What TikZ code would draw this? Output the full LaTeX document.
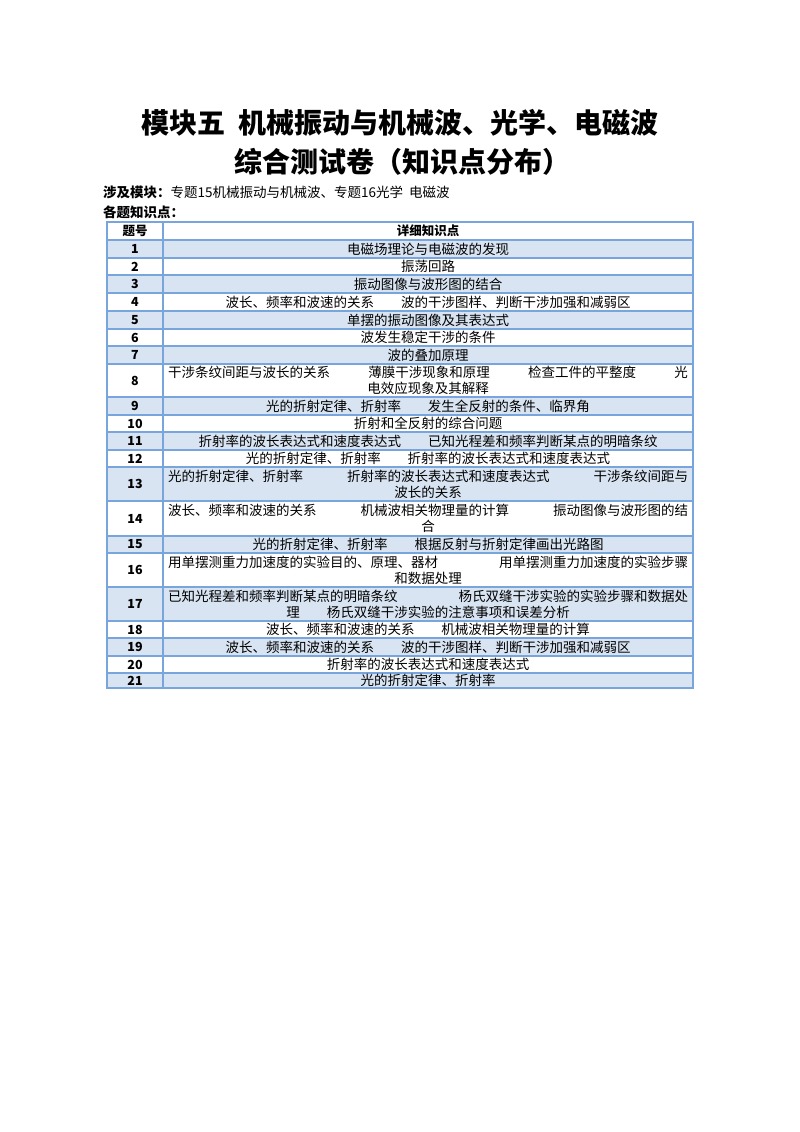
\documentclass[tikz,border=0pt]{standalone}
\usepackage{fontspec}
\setmainfont{Noto Sans CJK SC}
\definecolor{rowblue}{RGB}{216,228,242}
\definecolor{lineblue}{RGB}{120,165,220}
\newcommand{\G}{\hspace{2em}}
\newcommand{\tabrow}[5]{%
  \fill[#4] (107pt,-#2pt) rectangle (693pt,-#3pt);
  \draw[cellline] (107pt,-#2pt) rectangle (693pt,-#3pt);
  \draw[cellline] (163pt,-#2pt) -- (163pt,-#3pt);
  \node[numtxt] (n#1) at (135pt,{-(#2+#3)/2*1pt}) {#1};
  \node[celltxt] (t#1) at (428pt,{-(#2+#3)/2*1pt}) {#5};
}
\begin{document}
\begin{tikzpicture}[x=1pt,y=1pt,
  cellline/.style={draw=lineblue,line width=1.2pt},
  numtxt/.style={font=\fontsize{12.5}{13}\selectfont\bfseries,inner sep=0pt},
  celltxt/.style={font=\fontsize{13.5}{16}\selectfont,inner sep=0pt,align=center,text width=520pt}]
\useasboundingbox (0,0) rectangle (800,-1132);
\node[font=\fontsize{28}{30}\selectfont\bfseries] (title1) at (400,-123) {模块五\ \ 机械振动与机械波、光学、电磁波};
\node[font=\fontsize{28}{30}\selectfont\bfseries] (title2) at (402,-162) {综合测试卷（知识点分布）};
\node[anchor=west,font=\fontsize{13.5}{15}\selectfont,inner sep=0pt] (mod) at (103,-192) {\textbf{涉及模块：}专题15机械振动与机械波、专题16光学\ \ 电磁波};
\node[anchor=west,font=\fontsize{13.5}{15}\selectfont\bfseries,inner sep=0pt] (each) at (103,-212) {各题知识点：};
\fill[white] (107,-222) rectangle (693,-240);
\draw[cellline] (107,-222) rectangle (693,-240);
\draw[cellline] (163,-222) -- (163,-240);
\node[numtxt] (h1) at (135,-231) {题号};
\node[numtxt] (h2) at (428,-231) {详细知识点};
\tabrow{1}{240}{258}{rowblue}{电磁场理论与电磁波的发现}
\tabrow{2}{258}{275}{white}{振荡回路}
\tabrow{3}{275}{293}{rowblue}{振动图像与波形图的结合}
\tabrow{4}{293}{311}{white}{波长、频率和波速的关系\G 波的干涉图样、判断干涉加强和减弱区}
\tabrow{5}{311}{329}{rowblue}{单摆的振动图像及其表达式}
\tabrow{6}{329}{346}{white}{波发生稳定干涉的条件}
\tabrow{7}{346}{364}{rowblue}{波的叠加原理}
\tabrow{8}{364}{397}{white}{干涉条纹间距与波长的关系\hfill 薄膜干涉现象和原理\hfill 检查工件的平整度\hfill 光\\电效应现象及其解释}
\tabrow{9}{397}{415}{rowblue}{光的折射定律、折射率\G 发生全反射的条件、临界角}
\tabrow{10}{415}{432}{white}{折射和全反射的综合问题}
\tabrow{11}{432}{450}{rowblue}{折射率的波长表达式和速度表达式\G 已知光程差和频率判断某点的明暗条纹}
\tabrow{12}{450}{467}{white}{光的折射定律、折射率\G 折射率的波长表达式和速度表达式}
\tabrow{13}{467}{501}{rowblue}{光的折射定律、折射率\hfill 折射率的波长表达式和速度表达式\hfill 干涉条纹间距与\\波长的关系}
\tabrow{14}{501}{536}{white}{波长、频率和波速的关系\hfill 机械波相关物理量的计算\hfill 振动图像与波形图的结\\合}
\tabrow{15}{536}{553}{rowblue}{光的折射定律、折射率\G 根据反射与折射定律画出光路图}
\tabrow{16}{553}{587}{white}{用单摆测重力加速度的实验目的、原理、器材\hfill 用单摆测重力加速度的实验步骤\\和数据处理}
\tabrow{17}{587}{621}{rowblue}{已知光程差和频率判断某点的明暗条纹\hfill 杨氏双缝干涉实验的实验步骤和数据处\\理\G 杨氏双缝干涉实验的注意事项和误差分析}
\tabrow{18}{621}{638}{white}{波长、频率和波速的关系\G 机械波相关物理量的计算}
\tabrow{19}{638}{656}{rowblue}{波长、频率和波速的关系\G 波的干涉图样、判断干涉加强和减弱区}
\tabrow{20}{656}{673}{white}{折射率的波长表达式和速度表达式}
\tabrow{21}{673}{688}{rowblue}{光的折射定律、折射率}
\end{tikzpicture}
\end{document}
